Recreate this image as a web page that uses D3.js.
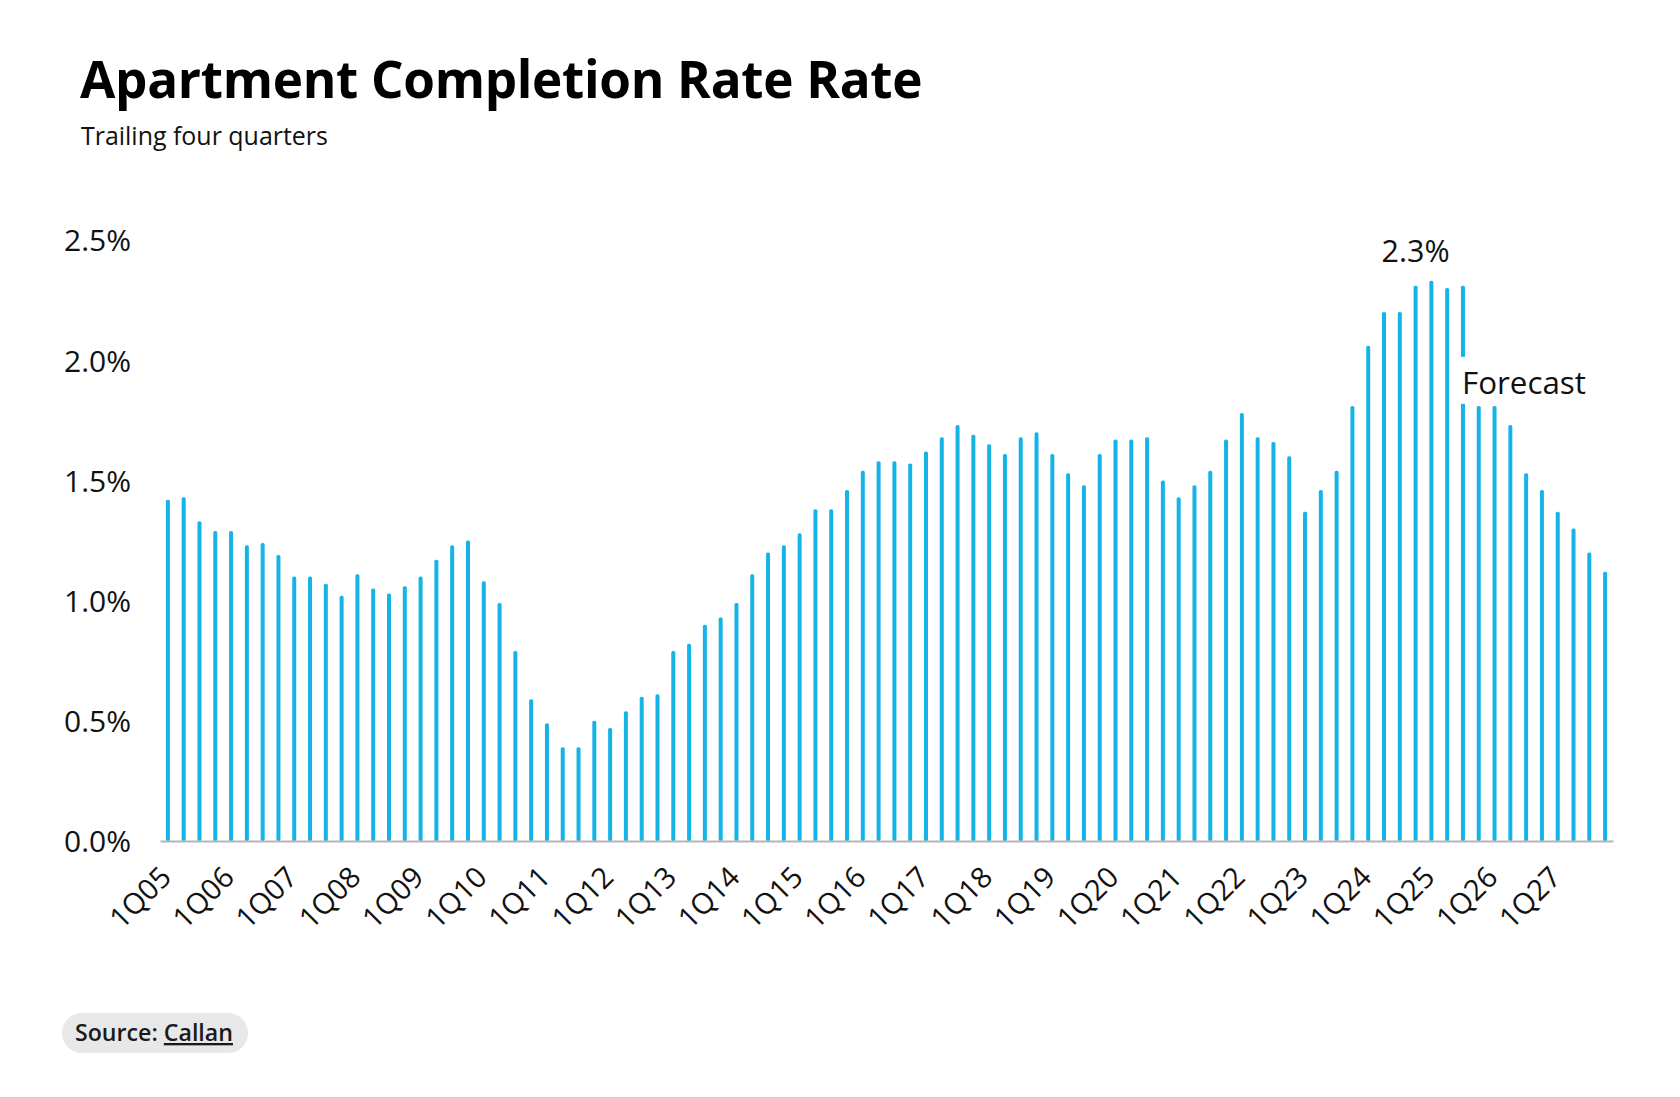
<!DOCTYPE html>
<html>
<head>
<meta charset="utf-8">
<script src="https://cdn.jsdelivr.net/npm/d3@7"></script>
<style>
  html, body { margin: 0; padding: 0; background: #ffffff; }
  svg { display: block; }
  text { font-family: "Open Sans", "Noto Sans", sans-serif; fill: #111; }
</style>
</head>
<body>
<svg id="chart" width="1680" height="1097"></svg>
<script>
// ---------- data ----------
const categories = [
  "1Q05","2Q05","3Q05","4Q05","1Q06","2Q06","3Q06","4Q06","1Q07","2Q07","3Q07","4Q07",
  "1Q08","2Q08","3Q08","4Q08","1Q09","2Q09","3Q09","4Q09","1Q10","2Q10","3Q10","4Q10",
  "1Q11","2Q11","3Q11","4Q11","1Q12","2Q12","3Q12","4Q12","1Q13","2Q13","3Q13","4Q13",
  "1Q14","2Q14","3Q14","4Q14","1Q15","2Q15","3Q15","4Q15","1Q16","2Q16","3Q16","4Q16",
  "1Q17","2Q17","3Q17","4Q17","1Q18","2Q18","3Q18","4Q18","1Q19","2Q19","3Q19","4Q19",
  "1Q20","2Q20","3Q20","4Q20","1Q21","2Q21","3Q21","4Q21","1Q22","2Q22","3Q22","4Q22",
  "1Q23","2Q23","3Q23","4Q23","1Q24","2Q24","3Q24","4Q24","1Q25","2Q25","3Q25","4Q25",
  "1Q26","2Q26","3Q26","4Q26","1Q27","2Q27","3Q27","4Q27"
];
const completionRate = [
  1.42,1.43,1.33,1.29,1.29,1.23,1.24,1.19,1.10,1.10,1.07,1.02,
  1.11,1.05,1.03,1.06,1.10,1.17,1.23,1.25,1.08,0.99,0.79,0.59,
  0.49,0.39,0.39,0.50,0.47,0.54,0.60,0.61,0.79,0.82,0.90,0.93,
  0.99,1.11,1.20,1.23,1.28,1.38,1.38,1.46,1.54,1.58,1.58,1.57,
  1.62,1.68,1.73,1.69,1.65,1.61,1.68,1.70,1.61,1.53,1.48,1.61,
  1.67,1.67,1.68,1.50,1.43,1.48,1.54,1.67,1.78,1.68,1.66,1.60,
  1.37,1.46,1.54,1.81,2.06,2.20,2.20,2.31,2.33,2.30,2.31,1.81,
  1.81,1.73,1.53,1.46,1.37,1.30,1.20,1.12
];
const xTickLabels = ["1Q05","1Q06","1Q07","1Q08","1Q09","1Q10","1Q11","1Q12","1Q13","1Q14","1Q15","1Q16",
  "1Q17","1Q18","1Q19","1Q20","1Q21","1Q22","1Q23","1Q24","1Q25","1Q26","1Q27"];
const yTickValues = [0, 0.5, 1.0, 1.5, 2.0, 2.5];
const yTickLabels = ["0.0%","0.5%","1.0%","1.5%","2.0%","2.5%"];
const peakLabel = { category: "4Q24", value: 2.41, text: "2.3%" };
const forecastLabel = { category: "3Q25", value: 1.86, text: "Forecast" };
const titleText = "Apartment Completion Rate Rate";
const subtitleText = "Trailing four quarters";
const sourceName = "Callan";

// ---------- chart ----------
const svg = d3.select("#chart");
svg.append("rect").attr("width", 1680).attr("height", 1097).attr("fill", "#fff");

function fitWidth(sel, target, baseSize) {
  sel.style("font-size", baseSize + "px");
  const w = sel.node().getComputedTextLength();
  sel.style("font-size", (baseSize * target / w).toFixed(2) + "px");
}

const title = svg.append("text").attr("x", 80).attr("y", 98)
  .style("font-weight", 700).style("fill", "#000").style("letter-spacing", "-0.3px")
  .text(titleText);
fitWidth(title, 842, 50);
const subtitle = svg.append("text").attr("x", 81).attr("y", 145)
  .style("fill", "#111")
  .text(subtitleText);
fitWidth(subtitle, 247, 24);

const x = d3.scaleBand().domain(categories).range([160, 1613]).padding(0);
const y = d3.scaleLinear().domain([0, 2.5]).range([841, 240]);
const barW = 4;
const cx = c => x(c) + x.bandwidth() / 2;

// y axis labels
const yAxis = d3.axisLeft(y).tickValues(yTickValues)
  .tickFormat((d, i) => yTickLabels[i]).tickSize(0).tickPadding(0);
const gy = svg.append("g").attr("transform", "translate(131,0)").call(yAxis);
gy.select(".domain").remove();
gy.selectAll("text").style("font-size", "30px").style("font-family", "'Open Sans', 'Noto Sans', sans-serif")
  .attr("fill", "#111").attr("dy", "0.36em");

// bars
svg.append("g").selectAll("rect").data(categories).join("rect")
  .attr("x", d => cx(d) - barW / 2)
  .attr("width", barW)
  .attr("y", (d, i) => y(completionRate[i]))
  .attr("height", (d, i) => y(0) - y(completionRate[i]))
  .attr("rx", 1.6)
  .attr("fill", "#14b3e8");

// x axis
const xAxis = d3.axisBottom(x).tickValues(xTickLabels).tickSize(0).tickSizeOuter(0);
const gx = svg.append("g").attr("transform", `translate(0,${y(0)})`).call(xAxis);
gx.select(".domain").attr("stroke", "#b5b5b5").attr("stroke-width", 2);
gx.selectAll("text")
  .style("font-size", "29px").style("font-family", "'Open Sans', 'Noto Sans', sans-serif")
  .attr("fill", "#111")
  .attr("text-anchor", "end")
  .attr("x", 5).attr("y", 38).attr("dy", 0)
  .attr("transform", "rotate(-45 5 38)");

// annotations
const pk = svg.append("text")
  .attr("x", cx(peakLabel.category)).attr("y", y(peakLabel.value))
  .attr("text-anchor", "middle")
  .text(peakLabel.text);
fitWidth(pk, 68, 29);

const fg = svg.append("g");
const fBg = fg.append("rect").attr("fill", "#fff");
const fText = fg.append("text")
  .attr("x", cx(forecastLabel.category) - 1).attr("y", y(forecastLabel.value))
  .text(forecastLabel.text);
fitWidth(fText, 124, 29);
const bb = fText.node().getBBox();
fBg.attr("x", bb.x - 6).attr("y", bb.y - 3).attr("width", bb.width + 12).attr("height", bb.height + 4);

// source pill
const sg = svg.append("g");
sg.append("rect").attr("x", 62).attr("y", 1013).attr("width", 186).attr("height", 40)
  .attr("rx", 20).attr("fill", "#e8e8e8");
const st = sg.append("text").attr("x", 75).attr("y", 1041)
  .style("font-weight", 600).style("fill", "#1a1a1a");
st.append("tspan").text("Source: ");
st.append("tspan").style("text-decoration", "underline").text(sourceName);
fitWidth(st, 158, 21);
</script>
</body>
</html>
